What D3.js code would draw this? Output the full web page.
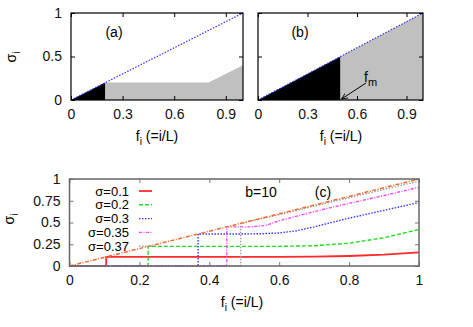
<!DOCTYPE html>
<html>
<head>
<meta charset="utf-8">
<script src="https://cdn.jsdelivr.net/npm/d3@7"></script>
<style>
  body { margin: 0; background: #fff; }
  text { font-family: "Liberation Sans", Arial, sans-serif; }
</style>
</head>
<body>
<script>
let w = 473;
let h = 327;
let fontSize = 14;

// panel (a)
let blackA = [[0, 0], [0.2, 0.2], [0.2, 0]];
let grayA = [[0.2, 0], [0.2, 0.2], [0.8, 0.2], [1, 0.4], [1, 0]];
// panel (b)
let fm = 0.5;
let blackB = [[0, 0], [fm, fm], [fm, 0]];
let grayB = [[fm, 0], [fm, fm], [1, 1], [1, 0]];
let diag = [[0, 0], [1, 1]];
let ticksAB_x = [0, 0.3, 0.6, 0.9];
let ticksAB_y = [0, 0.5, 1];

// panel (c)
let sigmas = ["σ=0.1", "σ=0.2", "σ=0.3", "σ=0.35", "σ=0.37"];
let curve01 = [[0, 0], [0.105, 0], [0.105, 0.105], [0.6, 0.105], [0.7, 0.108], [0.8, 0.115], [0.9, 0.13], [1, 0.157]];
let curve02 = [[0, 0], [0.225, 0], [0.225, 0.225], [0.6, 0.226], [0.7, 0.233], [0.8, 0.262], [0.9, 0.325], [1, 0.42]];
let curve03 = [[0, 0], [0.368, 0], [0.368, 0.368], [0.5, 0.368], [0.55, 0.371], [0.6, 0.38], [0.65, 0.405], [0.7, 0.45], [0.8, 0.55], [0.9, 0.64], [1, 0.73]];
let curve035 = [[0, 0], [0.45, 0], [0.45, 0.45], [0.52, 0.45], [0.56, 0.465], [0.6, 0.52], [0.7, 0.625], [0.8, 0.72], [0.9, 0.81], [1, 0.905]];
let curve037 = [[0, 0], [0.49, 0], [0.49, 0.49], [0.6, 0.59], [0.8, 0.785], [1, 0.975]];
let ticksC_x = [0, 0.2, 0.4, 0.6, 0.8, 1];
let ticksC_y = [0, 0.25, 0.5, 0.75, 1];

let curves = [curve01, curve02, curve03, curve035, curve037];
let colors = ["#ff2a2a", "#22dd22", "#3535ff", "#ff40ff", "#a0a0a0"];
let dashes = [null, "4,2", "1.5,1.5", "3,1.5,1,1.5", "1.5,1.5"];

let svg = d3.select("body").append("svg").attr("width", w).attr("height", h);

function panel(x0, x1, y0, y1, xt, yt, xfmt, showY, axisColor) {
  let x = d3.scaleLinear().domain([0, 1]).range([x0, x1]);
  let y = d3.scaleLinear().domain([0, 1]).range([y1, y0]);
  let g = svg.append("g");
  let tk = 4;
  let mk = (axis, tx, ty) => {
    let a = g.append("g").attr("transform", `translate(${tx},${ty})`).call(axis);
    a.select(".domain").remove();
    a.selectAll("line").attr("stroke", axisColor);
    a.selectAll("text").attr("font-size", fontSize).attr("fill", "#111")
      .attr("font-family", '"Liberation Sans", Arial, sans-serif');
    return a;
  };
  mk(d3.axisBottom(x).tickValues(xt).tickSize(-tk).tickPadding(9).tickFormat(xfmt), 0, y1);
  mk(d3.axisTop(x).tickValues(xt).tickSize(-tk).tickFormat(""), 0, y0);
  mk(d3.axisLeft(y).tickValues(yt).tickSize(-tk).tickPadding(9).tickFormat(showY ? d3.format("") : ""), x0, 0);
  mk(d3.axisRight(y).tickValues(yt).tickSize(-tk).tickFormat(""), x1, 0);
  return { x, y, g };
}

function xLabel(cx, cy) {
  let t = svg.append("text").attr("x", cx).attr("y", cy).attr("text-anchor", "middle")
    .attr("font-size", fontSize);
  t.append("tspan").text("f");
  t.append("tspan").text("i").attr("font-size", 10).attr("dy", 4);
  t.append("tspan").text(" (=i/L)").attr("dy", -4);
}

function yLabel(cx, cy) {
  let t = svg.append("text").attr("transform", `translate(${cx},${cy}) rotate(-90)`)
    .attr("text-anchor", "middle").attr("font-size", fontSize);
  t.append("tspan").text("σ");
  t.append("tspan").text("i").attr("font-size", 10).attr("dy", 4);
}

let line = (p) => d3.line().x(d => p.x(d[0])).y(d => p.y(d[1]));

// ---- panel (a)
let pa = panel(71, 243, 13, 100, ticksAB_x, ticksAB_y, d3.format(""), true, "#000");
pa.g.insert("path", ":first-child").attr("d", line(pa)(grayA) + "Z").attr("fill", "#c0c0c0");
pa.g.insert("path", ":first-child").attr("d", line(pa)(blackA) + "Z").attr("fill", "#000");
pa.g.append("path").attr("d", line(pa)(diag)).attr("stroke", "#3030ff").attr("stroke-width", 1.2)
  .attr("stroke-dasharray", "1.5,1.5").attr("fill", "none");
pa.g.append("rect").attr("x", 71).attr("y", 13).attr("width", 172).attr("height", 87)
  .attr("fill", "none").attr("stroke", "#000").attr("stroke-width", 1.2);
svg.append("text").attr("x", 114).attr("y", 37).attr("text-anchor", "middle").attr("font-size", fontSize).text("(a)");
xLabel(157, 141);
yLabel(16, 57);

// ---- panel (b)
let pb = panel(258, 423, 13, 100, ticksAB_x, ticksAB_y, d3.format(""), false, "#000");
pb.g.insert("path", ":first-child").attr("d", line(pb)(grayB) + "Z").attr("fill", "#c0c0c0");
pb.g.insert("path", ":first-child").attr("d", line(pb)(blackB) + "Z").attr("fill", "#000");
pb.g.append("path").attr("d", line(pb)(diag)).attr("stroke", "#3030ff").attr("stroke-width", 1.2)
  .attr("stroke-dasharray", "1.5,1.5").attr("fill", "none");
pb.g.append("rect").attr("x", 258).attr("y", 13).attr("width", 165).attr("height", 87)
  .attr("fill", "none").attr("stroke", "#000").attr("stroke-width", 1.2);
svg.append("text").attr("x", 300).attr("y", 37).attr("text-anchor", "middle").attr("font-size", fontSize).text("(b)");
xLabel(341, 141);

// arrow to f_m
svg.append("defs").append("marker").attr("id", "ah").attr("viewBox", "0 0 10 10")
  .attr("refX", 9).attr("refY", 5).attr("markerWidth", 7).attr("markerHeight", 7)
  .attr("orient", "auto").append("path").attr("d", "M0,1 L9,5 L0,9").attr("fill", "none")
  .attr("stroke", "#000").attr("stroke-width", 1.2);
svg.append("line").attr("x1", 366).attr("y1", 83).attr("x2", pb.x(fm) + 1).attr("y2", pb.y(0) - 1)
  .attr("stroke", "#000").attr("stroke-width", 1).attr("marker-end", "url(#ah)");
let fmt = svg.append("text").attr("x", 364).attr("y", 82).attr("font-size", fontSize);
fmt.append("tspan").text("f");
fmt.append("tspan").text("m").attr("font-size", 11).attr("dy", 4);

// ---- panel (c)
let pc = panel(69.5, 419, 179, 266, ticksC_x, ticksC_y, d3.format(""), true, "#777");
let cg = pc.g.append("g");
curves.forEach((c, i) => {
  cg.append("path").attr("d", line(pc)(c)).attr("fill", "none").attr("stroke", colors[i])
    .attr("stroke-width", i == 0 ? 1.8 : 1.4).attr("stroke-dasharray", dashes[i]);
});
cg.append("path").attr("d", line(pc)(diag)).attr("fill", "none").attr("stroke", "#f36a2e")
  .attr("stroke-width", 1.5).attr("stroke-dasharray", "4,1.5,1,1.5");
pc.g.append("rect").attr("x", 69.5).attr("y", 179).attr("width", 349.5).attr("height", 87)
  .attr("fill", "none").attr("stroke", "#666").attr("stroke-width", 1.5);

// legend
sigmas.forEach((s, i) => {
  let ly = 191 + i * 13.8;
  svg.append("text").attr("x", 129).attr("y", ly + 4.5).attr("text-anchor", "end")
    .attr("font-size", 13).text(s);
  svg.append("line").attr("x1", 139).attr("x2", 152).attr("y1", ly).attr("y2", ly)
    .attr("stroke", colors[i]).attr("stroke-width", i == 0 ? 1.8 : 1.4).attr("stroke-dasharray", dashes[i]);
});
svg.append("text").attr("x", 261).attr("y", 197).attr("text-anchor", "middle").attr("font-size", fontSize).text("b=10");
svg.append("text").attr("x", 323).attr("y", 197).attr("text-anchor", "middle").attr("font-size", fontSize).text("(c)");
xLabel(242, 307);
yLabel(14, 219);
</script>
</body>
</html>
